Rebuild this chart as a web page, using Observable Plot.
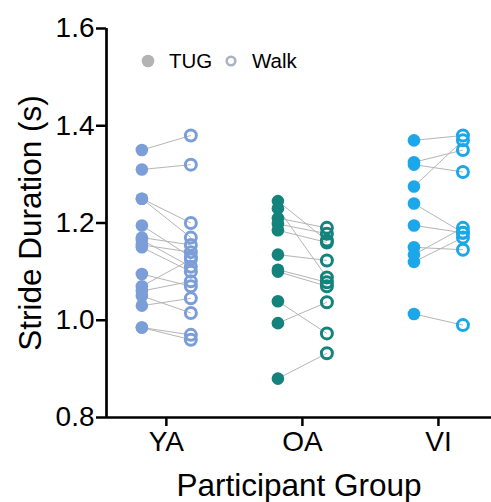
<!DOCTYPE html>
<html>
<head>
<meta charset="utf-8">
<script src="https://cdn.jsdelivr.net/npm/d3@7"></script>
<script src="https://cdn.jsdelivr.net/npm/@observablehq/plot@0.6"></script>
<style>
  body { margin: 0; background: white; }
  #wrap { position: relative; width: 491px; height: 502px; font-family: "Liberation Sans", Arial, sans-serif; }
  #legend { position: absolute; left: 0; top: 0; width: 491px; height: 100px; pointer-events: none; }
</style>
</head>
<body>
<div id="wrap"></div>
<script>
// ---- data ----
const groups = ["YA", "OA", "VI"];
const colors = ["#7b9ed8", "#13837c", "#1ba8ea"];
const yTicks = [0.8, 1.0, 1.2, 1.4, 1.6];
const seriesNames = ["TUG", "Walk"];

const yaTUG  = [1.35, 1.31, 1.25, 1.25, 1.195, 1.17, 1.165, 1.155, 1.15, 1.095, 1.07, 1.06, 1.05, 1.03, 0.985, 0.985];
const yaWalk = [1.38, 1.32, 1.20, 1.17, 1.13, 1.155, 1.11, 1.14, 1.10, 1.07, 1.125, 1.08, 1.015, 1.045, 0.97, 0.96];

const oaTUG  = [1.245, 1.23, 1.21, 1.198, 1.185, 1.135, 1.104, 1.10, 1.039, 0.994, 0.88];
const oaWalk = [1.164, 1.088, 1.19, 1.178, 1.16, 1.123, 1.078, 1.07, 0.973, 1.037, 0.932];

const viTUG  = [1.37, 1.325, 1.32, 1.275, 1.24, 1.195, 1.15, 1.135, 1.12, 1.013];
const viWalk = [1.38, 1.35, 1.305, 1.37, 1.18, 1.18, 1.145, 1.19, 1.17, 0.99];

// ---- table ----
const sets = [[yaTUG, yaWalk], [oaTUG, oaWalk], [viTUG, viWalk]];
const pairs = [];
sets.forEach(([t, w], gi) => t.forEach((v, i) => pairs.push({gi, group: groups[gi], tug: v, walk: w[i]})));

const off = 0.18;
const xDomain = [-0.44, 2.39];
const colorOf = d => colors[d.gi];

const plot = Plot.plot({
  width: 491,
  height: 502,
  marginLeft: 106,
  marginRight: 0,
  marginTop: 28,
  marginBottom: 85,
  style: {fontFamily: "Liberation Sans, Arial, sans-serif", color: "black", background: "white", overflow: "visible"},
  x: {type: "linear", domain: xDomain},
  y: {domain: [0.8, 1.6]},
  marks: [
    Plot.link(pairs, {x1: d => d.gi - off, x2: d => d.gi + off, y1: "tug", y2: "walk", stroke: "#b5b5b5", strokeWidth: 1}),
    Plot.dot(pairs, {x: d => d.gi - off, y: "tug", r: 6.3, fill: colorOf, stroke: "none"}),
    Plot.dot(pairs, {x: d => d.gi + off, y: "walk", r: 5.5, stroke: colorOf, strokeWidth: 3, fill: "none"}),
    Plot.ruleY([0.8], {strokeWidth: 2.7, stroke: "black"}),
    Plot.ruleX([xDomain[0]], {strokeWidth: 2.7, stroke: "black"}),
    Plot.axisY({ticks: yTicks, tickFormat: d3.format(".1f"), tickSize: 10, tickPadding: 2, strokeWidth: 2.5, fontSize: 28,
      label: "Stride Duration (s)", labelAnchor: "center", labelArrow: "none", labelOffset: 88}),
    Plot.axisX({ticks: [0, 1, 2], tickFormat: i => groups[i], tickSize: 9, tickPadding: 5, strokeWidth: 2.5, fontSize: 28,
      label: "Participant Group", labelAnchor: "center", labelArrow: "none", labelOffset: 78})
  ]
});
plot.querySelectorAll("[aria-label='y-axis label'] text, [aria-label='x-axis label'] text").forEach(t => t.setAttribute("font-size", "31.5"));
const wrap = document.getElementById("wrap");
wrap.appendChild(plot);

// ---- legend (HTML overlay) ----
const ns = "http://www.w3.org/2000/svg";
const lg = document.createElementNS(ns, "svg");
lg.setAttribute("id", "legend");
lg.setAttribute("width", 491);
lg.setAttribute("height", 100);
lg.innerHTML = `
  <circle cx="148" cy="61" r="6.3" fill="#b3b3b3"></circle>
  <text x="169" y="68" font-size="20.5" font-family="Liberation Sans, Arial, sans-serif">${seriesNames[0]}</text>
  <circle cx="231" cy="61" r="4.3" fill="none" stroke="#a9b3c3" stroke-width="2.6"></circle>
  <text x="252" y="68" font-size="20.5" font-family="Liberation Sans, Arial, sans-serif">${seriesNames[1]}</text>`;
wrap.appendChild(lg);
</script>
</body>
</html>
